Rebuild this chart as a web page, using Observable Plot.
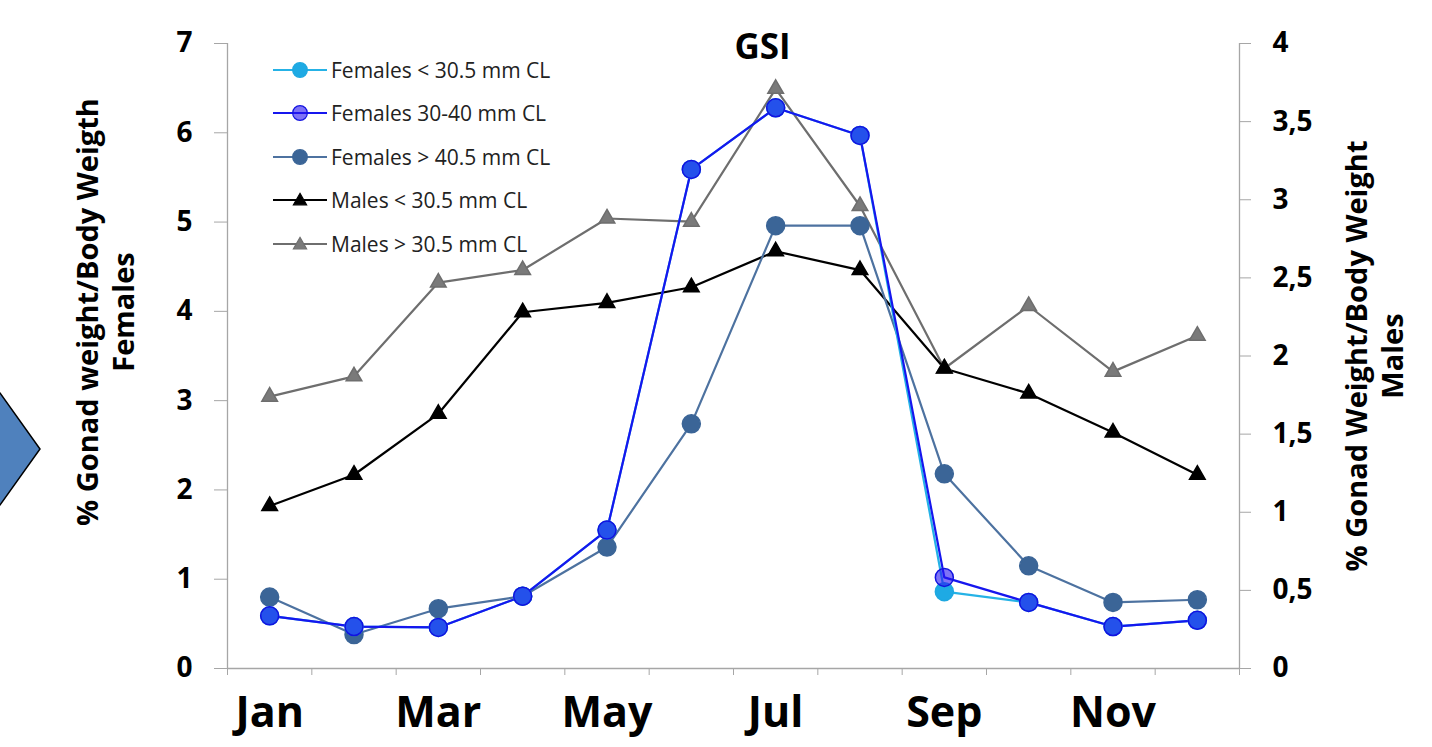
<!DOCTYPE html>
<html><head><meta charset="utf-8">
<script src="https://cdn.jsdelivr.net/npm/d3@7"></script>
<script src="https://cdn.jsdelivr.net/npm/@observablehq/plot@0.6"></script>
<style>
body{margin:0;background:#fff;}
#wrap{position:relative;width:1432px;height:747px;overflow:hidden;font-family:"Open Sans",sans-serif;background:#fff;}
#wrap > svg.plot{position:absolute;left:0;top:0;}
#legend{position:absolute;left:273px;top:48px;}
.row{display:flex;align-items:center;height:43.5px;font-size:21px;color:#222;white-space:nowrap;}
.row svg{margin-right:4px;}
#arrow{position:absolute;left:0;top:0;}
</style></head><body><div id="wrap"></div>
<script>
const months = ["Jan","Feb","Mar","Apr","May","Jun","Jul","Aug","Sep","Oct","Nov","Dec"];
const monthLabels = ["Jan","Mar","May","Jul","Sep","Nov"];
const femSmall  = [0.59,0.47,0.46,0.81,1.55,5.59,6.28,5.97,0.86,0.74,0.47,0.54];
const femMid    = [0.59,0.47,0.46,0.81,1.55,5.59,6.28,5.97,1.02,0.74,0.47,0.54];
const femLarge  = [0.80,0.38,0.67,0.81,1.36,2.74,4.96,4.96,2.18,1.15,0.74,0.77];
const maleSmall = [1.04,1.24,1.63,2.28,2.34,2.44,2.67,2.55,1.92,1.76,1.51,1.24];
const maleLarge = [1.74,1.87,2.47,2.55,2.88,2.86,3.71,2.96,1.92,2.32,1.90,2.13];
const femTicks  = [0,1,2,3,4,5,6,7];
const maleTicks = [0,0.5,1,1.5,2,2.5,3,3.5,4];
const seriesNames = ["Females < 30.5 mm CL","Females 30-40 mm CL","Females > 40.5 mm CL","Males < 30.5 mm CL","Males > 30.5 mm CL"];

const styles = [
  {line:"#25b2e6", fill:"#1eaae4", stroke:"#1ea8e0", symbol:"circle"},
  {line:"#1616ee", fill:"rgba(40,22,240,0.6)", stroke:"#1212e0", symbol:"circle"},
  {line:"#4d72a0", fill:"#3b6597", stroke:"#3b6597", symbol:"circle"},
  {line:"#000000", fill:"#000000", stroke:"#000000", symbol:"triangle"},
  {line:"#6e6e6e", fill:"#7a7a7a", stroke:"#6e6e6e", symbol:"triangle"}
];

const k = 7/4; // male axis (0-4) mapped onto female axis (0-7)
const idx = d3.range(12);
const toRows = (vals, s) => idx.map(i => ({m: i, v: vals[i]*s}));
const series = [
  toRows(femSmall,1), toRows(femMid,1), toRows(femLarge,1), toRows(maleSmall,k), toRows(maleLarge,k)
];
const order = [4,3,2,0,1];
const fmtMale = d => String(Math.round(d/k*10)/10).replace(".", ",");
const axisColor = "#a6a6a6";

const marks = [
  Plot.ruleY([0], {stroke: axisColor, strokeWidth: 1.3}),
  Plot.ruleX([-0.5], {stroke: axisColor, strokeWidth: 1.3}),
  Plot.ruleX([11.5], {stroke: axisColor, strokeWidth: 1.3}),
  Plot.axisY({anchor:"left", ticks: femTicks, tickSize:13, tickPadding:22, stroke: axisColor, fill:"#000",
    fontSize:28, fontWeight:"bold", label:null, tickFormat: d => String(d)}),
  Plot.axisY({anchor:"right", ticks: maleTicks.map(t=>t*k), tickSize:11, tickPadding:22, stroke: axisColor, fill:"#000",
    fontSize:28, fontWeight:"bold", label:null, tickFormat: fmtMale}),
  Plot.axisX({ticks: d3.range(13).map(i=>i-0.5), tickSize:7, stroke: axisColor, tickFormat: () => "", label:null}),
  Plot.axisX({ticks: monthLabels.map(m => months.indexOf(m)), tickSize:0, tickPadding:28, fill:"#000",
    fontSize:43, fontWeight:"bold", tickFormat: i => months[i], label:null}),
  Plot.text(["GSI"], {frameAnchor:"top", dx:29, dy:4, lineAnchor:"middle", fontSize:35, fontWeight:"bold", fill:"#000"}),
  Plot.text(["% Gonad weight/Body Weigth\nFemales"], {frameAnchor:"left", textAnchor:"middle", lineAnchor:"middle",
    rotate:-90, dx:-123, dy:-44, fontSize:29, fontWeight:"bold", lineHeight:1.25, fill:"#000"}),
  Plot.text(["% Gonad Weight/Body Weight\nMales"], {frameAnchor:"right", textAnchor:"middle", lineAnchor:"middle",
    rotate:-90, dx:134, dy:0, fontSize:29, fontWeight:"bold", lineHeight:1.25, fill:"#000"})
];
for (const s of order) {
  const st = styles[s];
  marks.push(Plot.line(series[s], {x:"m", y:"v", stroke: st.line, strokeWidth: 2.2}));
}
for (const s of order) {
  const st = styles[s];
  marks.push(Plot.dot(series[s], {x:"m", y:"v", symbol: st.symbol, r: st.symbol==="circle" ? 9 : 5.8,
    fill: st.fill, stroke: st.stroke, strokeWidth: 1.5}));
}

const chart = Plot.plot({
  width:1432, height:747,
  marginLeft:227, marginRight:193, marginTop:43, marginBottom:79,
  x:{type:"linear", domain:[-0.5, 11.5]},
  y:{domain:[0,7]},
  style:{fontFamily:"'Open Sans', sans-serif", color:"#000", background:"transparent", overflow:"visible"},
  marks
});
chart.classList.add("plot");
const wrap = document.getElementById("wrap");
wrap.appendChild(chart);

// decorative arrow shape at left edge
const ns = "http://www.w3.org/2000/svg";
const arrow = document.createElementNS(ns, "svg");
arrow.setAttribute("id","arrow"); arrow.setAttribute("width","60"); arrow.setAttribute("height","747");
const poly = document.createElementNS(ns, "polygon");
poly.setAttribute("points","-10,393 0,393 40,449 0,505 -10,505");
poly.setAttribute("fill","#4f81bd"); poly.setAttribute("stroke","#000"); poly.setAttribute("stroke-width","1.5");
arrow.appendChild(poly);
wrap.appendChild(arrow);

// legend
const legend = document.createElement("div");
legend.id = "legend";
seriesNames.forEach((name, i) => {
  const st = styles[i];
  const row = document.createElement("div");
  row.className = "row";
  const sw = document.createElementNS(ns, "svg");
  sw.setAttribute("width","54"); sw.setAttribute("height","20");
  const ln = document.createElementNS(ns, "line");
  ln.setAttribute("x1","0"); ln.setAttribute("x2","54"); ln.setAttribute("y1","10"); ln.setAttribute("y2","10");
  ln.setAttribute("stroke", st.line); ln.setAttribute("stroke-width","2");
  sw.appendChild(ln);
  const p = document.createElementNS(ns, "path");
  p.setAttribute("d", d3.symbol(st.symbol === "circle" ? d3.symbolCircle : d3.symbolTriangle, st.symbol==="circle" ? 170 : 75)());
  p.setAttribute("transform", st.symbol==="circle" ? "translate(27,10)" : "translate(27,11)");
  p.setAttribute("fill", st.fill); p.setAttribute("stroke", st.stroke); p.setAttribute("stroke-width","1.2");
  sw.appendChild(p);
  row.appendChild(sw);
  const t = document.createElement("span");
  t.textContent = name;
  row.appendChild(t);
  legend.appendChild(row);
});
wrap.appendChild(legend);
</script></body></html>
